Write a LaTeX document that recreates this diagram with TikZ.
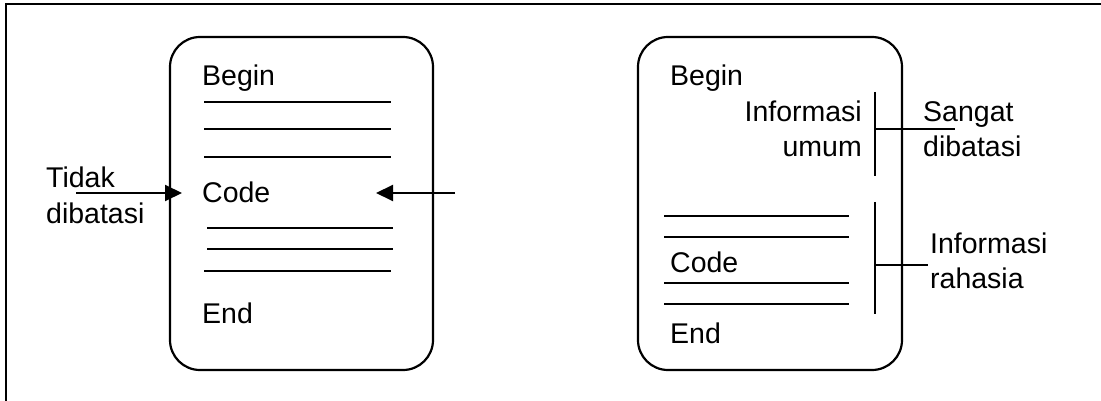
\documentclass[tikz,border=0pt]{standalone}
\usepackage{fontspec}
\setmainfont{Liberation Sans}
\usetikzlibrary{arrows.meta}

\begin{document}
\begin{tikzpicture}[x=1pt,y=-1pt,
  module/.style={draw, line width=2.2pt, rounded corners=30pt, inner sep=0pt},
  lbl/.style={inner sep=0pt, font=\fontsize{28.5}{35}\selectfont},
  rule/.style={line width=1.8pt},
  access/.style={line width=2pt, -{Triangle[length=17pt,width=16pt]}},
  bracket/.style={line width=2pt}]
\useasboundingbox (0,0) rectangle (1101,401);

% frame (left and top edges)
\draw[line width=2pt] (6,401) -- (6,4) -- (1101,4);

% ---- left module: everything open ----
\node[module, minimum width=263pt, minimum height=333pt] (modA) at (301.5,203.5) {};
\node[lbl, anchor=base west] (beginA) at (202,86) {Begin};
\node[lbl, anchor=base west] (codeA) at (202,202) {Code};
\node[lbl, anchor=base west] (endA) at (202,323) {End};
\foreach \y in {101.7,129,156.7} \draw[rule] (204,\y) -- (391,\y);
\draw[rule] (207,228) -- (393,228);
\draw[rule] (207,249) -- (393,249);
\draw[rule] (204,270.7) -- (391,270.7);

\node[lbl, anchor=base west] (tidak) at (46,188) {Tidak};
\node[lbl, anchor=base west] (dibatasiA) at (46,223) {dibatasi};
\coordinate (inL) at (76,193);
\coordinate (tipL) at (182,193);
\coordinate (inR) at (455,193);
\coordinate (tipR) at (376,193);
\draw[access] (inL) -- (tipL);
\draw[access] (inR) -- (tipR);

% ---- right module: public part and hidden part ----
\node[module, minimum width=264pt, minimum height=333pt] (modB) at (770,203.5) {};
\node[lbl, anchor=base west] (beginB) at (670,86) {Begin};
\node[lbl, anchor=base east] (infoU) at (862,122) {Informasi};
\node[lbl, anchor=base east] (umum) at (862,157) {umum};
\node[lbl, anchor=base west] (codeB) at (670,272) {Code};
\node[lbl, anchor=base west] (endB) at (670,343) {End};
\foreach \y in {216,237,283,304} \draw[rule] (664,\y) -- (849,\y);

% public section bracket
\coordinate (pubTop) at (875,92);
\coordinate (pubBot) at (875,176);
\coordinate (pubMid) at (875,129);
\coordinate (pubEnd) at (955,129);
\draw[bracket] (pubTop) -- (pubBot);
\draw[bracket] (pubMid) -- (pubEnd);
\node[lbl, anchor=base west] (sangat) at (923,122) {Sangat};
\node[lbl, anchor=base west] (dibatasiB) at (923,157) {dibatasi};

% hidden section bracket
\coordinate (hidTop) at (875,202);
\coordinate (hidBot) at (875,314);
\coordinate (hidMid) at (875,265);
\coordinate (hidEnd) at (928,265);
\draw[bracket] (hidTop) -- (hidBot);
\draw[bracket] (hidMid) -- (hidEnd);
\node[lbl, anchor=base west] (infoR) at (930,253) {Informasi};
\node[lbl, anchor=base west] (rahasia) at (930,288) {rahasia};
\end{tikzpicture}
\end{document}
